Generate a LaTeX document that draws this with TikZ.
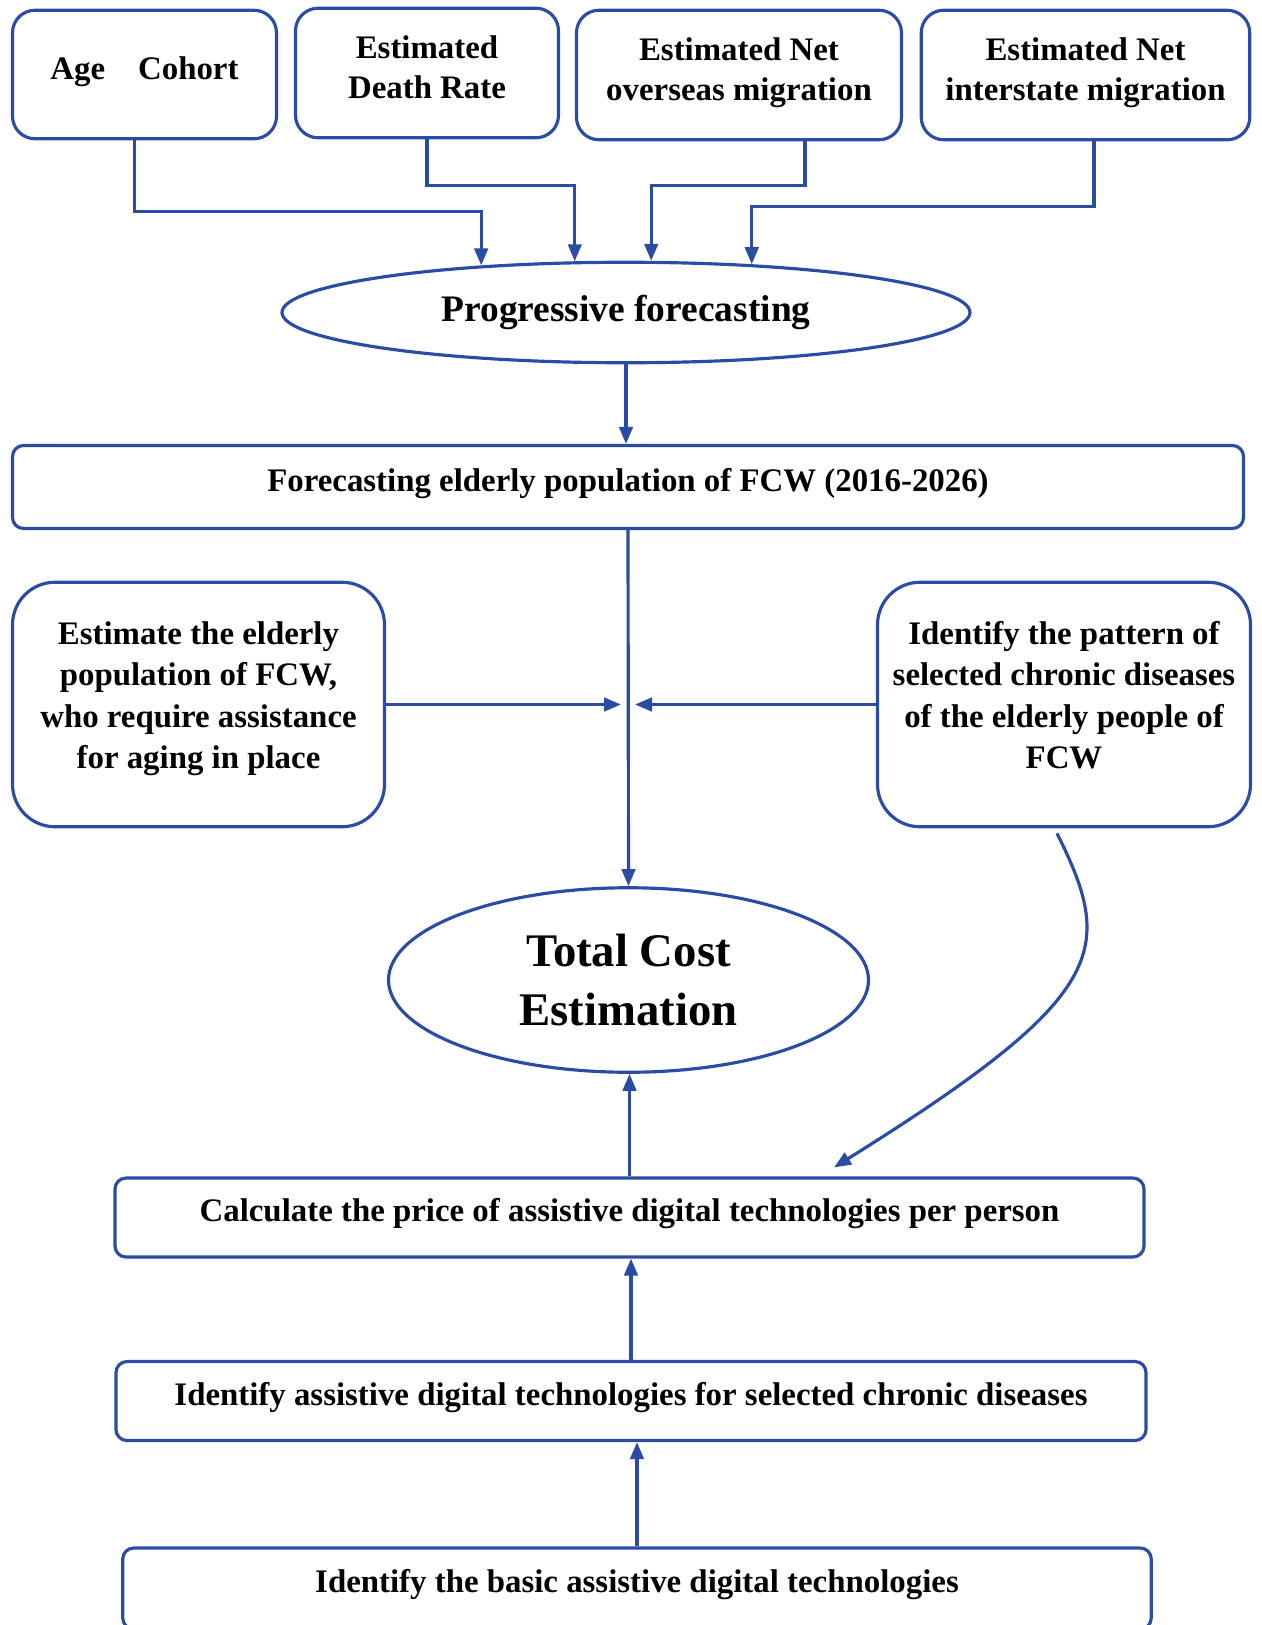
\documentclass[tikz,border=0pt]{standalone}
\usepackage{fontspec}
\setmainfont{Liberation Serif}
\usetikzlibrary{arrows.meta,shapes.geometric}
\definecolor{lineblue}{RGB}{43,76,163}

\begin{document}
\begin{tikzpicture}[
  box/.style={draw=lineblue,line width=1.8pt,rounded corners=0.45cm,align=center,inner sep=0pt,text depth=0.25cm,font=\fontsize{18.7}{22.8}\selectfont\bfseries},
  bar/.style={box,rounded corners=0.22cm,text depth=0.3cm},
  bigbox/.style={box,rounded corners=0.85cm,text depth=0.38cm,font=\fontsize{18.7}{23.6}\selectfont\bfseries},
  oval/.style={draw=lineblue,line width=1.8pt,ellipse,inner sep=0pt,align=center},
  flow/.style={-{Triangle[length=0.34cm,width=0.27cm]},draw=lineblue,line width=1.8pt}]
\useasboundingbox (0,0) rectangle (25.22,-32.5);
\node[box,minimum width=5.28cm,minimum height=2.57cm] (age) at (2.89,-1.49) {Age\quad Cohort};
\node[box,minimum width=5.26cm,minimum height=2.59cm] (death) at (8.54,-1.46) {Estimated\\Death Rate};
\node[box,minimum width=6.5cm,minimum height=2.59cm] (over) at (14.78,-1.50) {Estimated Net\\overseas migration};
\node[box,minimum width=6.57cm,minimum height=2.59cm] (inter) at (21.71,-1.50) {Estimated Net\\interstate migration};
\node[oval,minimum width=13.76cm,minimum height=2.01cm,font=\fontsize{21.3}{25}\selectfont\bfseries] (prog) at (12.52,-6.25) {Progressive forecasting};
\node[bar,minimum width=24.62cm,minimum height=1.66cm] (fore) at (12.56,-9.74) {Forecasting elderly population of FCW (2016-2026)};
\node[bigbox,minimum width=7.44cm,minimum height=4.89cm] (left) at (3.97,-14.09) {Estimate the elderly\\population of FCW,\\who require assistance\\for aging in place};
\node[bigbox,minimum width=7.46cm,minimum height=4.89cm] (right) at (21.28,-14.09) {Identify the pattern of\\selected chronic diseases\\of the elderly people of\\FCW};
\node[oval,minimum width=9.6cm,minimum height=3.69cm,font=\fontsize{26.6}{33.6}\selectfont\bfseries] (total) at (12.57,-19.6) {Total Cost\\Estimation};
\node[bar,minimum width=20.58cm,minimum height=1.58cm] (calc) at (12.59,-24.35) {Calculate the price of assistive digital technologies per person};
\node[bar,minimum width=20.6cm,minimum height=1.58cm] (ident) at (12.62,-28.02) {Identify assistive digital technologies for selected chronic diseases};
\node[bar,minimum width=20.57cm,minimum height=1.62cm] (basic) at (12.74,-31.77) {Identify the basic assistive digital technologies};
\draw[flow] ([xshift=-0.2cm]age.south) -- ++(0,-1.415) -| (prog.162.3);
\draw[flow] (death.south) -- ++(0,-0.915) -| (prog.135.2);
\draw[flow] ([xshift=1.32cm]over.south) -- ++(0,-0.875) -| (prog.64.9);
\draw[flow] ([xshift=0.17cm]inter.south) -- ++(0,-1.305) -| (prog.21.6);
\draw[flow] (prog.south) -- (prog.south |- fore.north);
\draw[flow] (fore.south) -- (total.north);
\coordinate (cross) at (fore.south |- left.east);
\draw[flow,shorten >=0.14cm] (left.east) -- (cross);
\draw[flow,shorten >=0.14cm] (right.west) -- (cross);
\draw[flow] ([xshift=-0.14cm,yshift=-0.1cm]right.south) .. controls (22.3,-19.0) and (22.2,-19.9) .. ([xshift=4.09cm,yshift=0.18cm]calc.north);
\draw[flow] (calc.north) -- (calc.north |- total.south);
\draw[flow] (ident.north) -- (ident.north |- calc.south);
\draw[flow] (basic.north) -- (basic.north |- ident.south);
\end{tikzpicture}
\end{document}
